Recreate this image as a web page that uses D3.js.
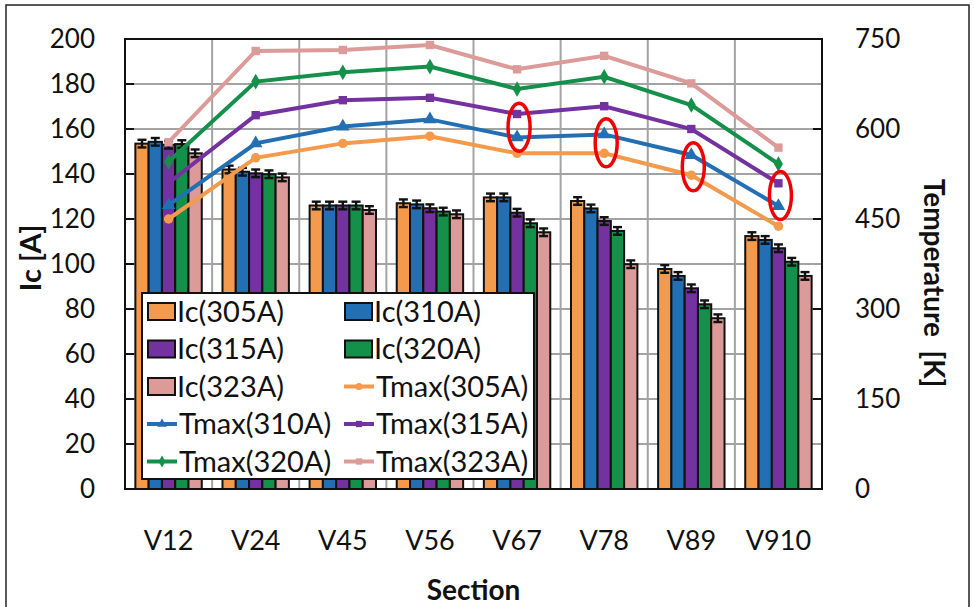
<!DOCTYPE html>
<html>
<head>
<meta charset="utf-8">
<script src="https://cdn.jsdelivr.net/npm/d3@7/dist/d3.min.js"></script>
<style>
  html, body { margin: 0; padding: 0; background: #fff; }
  svg { display: block; font-family: Lato, "Open Sans", sans-serif; }
</style>
</head>
<body>
<svg id="chart" width="974" height="607"></svg>
<script>
// Sections along the conductor
const sections = ["V12", "V24", "V45", "V56", "V67", "V78", "V89", "V910"];
const currents = ["305A", "310A", "315A", "320A", "323A"];
const colors = ["#F39A4C", "#2270B3", "#7431A0", "#14904A", "#DC9A98"];

// Critical current Ic [A] per section, one array per operating current
const ic305 = [153.5, 142, 126, 127, 129.6, 128, 97.8, 112.4];
const ic310 = [154.3, 141, 126, 126.5, 129.6, 124.7, 94.7, 110.7];
const ic315 = [153, 140.3, 126, 124.8, 122.8, 119.1, 89.2, 107];
const ic320 = [153.3, 139.9, 126, 123.3, 118.1, 114.7, 82.1, 101];
const ic323 = [149.2, 138.5, 124, 122.1, 114.1, 99.9, 75.9, 94.7];
const icErr = 1.7;

// Maximum temperature Tmax [K] per section
const t305 = [450, 552, 576, 588, 559.5, 559.5, 523, 438];
const t310 = [473, 576, 604, 616, 586, 591, 556.7, 471.7];
const t315 = [510, 623, 648, 652, 625, 638, 600, 509.5];
const t320 = [545.5, 679, 694.4, 704, 666.7, 687, 640, 541.7];
const t323 = [578, 730, 731.7, 740, 699.5, 722, 676, 569];

// Tick values
const icTicks = [0, 20, 40, 60, 80, 100, 120, 140, 160, 180, 200];
const tTicks = [0, 150, 300, 450, 600, 750];

// Highlighted temperature ranges
const marks = [
  { section: "V67", lo: 563, hi: 643 },
  { section: "V78", lo: 537, hi: 617 },
  { section: "V89", lo: 497, hi: 577 },
  { section: "V910", lo: 449, hi: 529 }
];

const icSeries = [ic305, ic310, ic315, ic320, ic323];
const tSeries = [t305, t310, t315, t320, t323];
const symbols = [d3.symbolCircle, d3.symbolTriangle, d3.symbolSquare, d3.symbolDiamond, d3.symbolSquare];

const svg = d3.select("#chart");
const L = 125, R = 822, T = 39, B = 489;

const x = d3.scaleBand().domain(sections).range([L, R]);
const xi = d3.scaleBand().domain(currents).range([0, x.bandwidth()]).paddingOuter(0.78).paddingInner(0);
const yL = d3.scaleLinear().domain([0, 200]).range([B, T]);
const yR = d3.scaleLinear().domain([0, 750]).range([B, T]);

// outer frame
svg.append("rect").attr("x", 6).attr("y", 5).attr("width", 963).attr("height", 640)
  .attr("fill", "none").attr("stroke", "#222").attr("stroke-width", 1.5);

// gridlines
const grid = svg.append("g").attr("stroke", "#a3a3a3").attr("stroke-width", 2);
grid.selectAll("line.h").data(icTicks.slice(1, -1)).join("line")
  .attr("x1", L).attr("x2", R).attr("y1", d => yL(d)).attr("y2", d => yL(d));
grid.selectAll("line.v").data(sections.slice(1)).join("line")
  .attr("x1", d => x(d)).attr("x2", d => x(d)).attr("y1", T).attr("y2", B);

// bars
const bars = svg.append("g");
currents.forEach((c, si) => {
  bars.append("g").selectAll("rect").data(icSeries[si]).join("rect")
    .attr("x", (d, i) => x(sections[i]) + xi(c))
    .attr("y", d => yL(d))
    .attr("width", xi.bandwidth())
    .attr("height", d => yL(0) - yL(d))
    .attr("fill", colors[si]).attr("stroke", "#111").attr("stroke-width", 2);
});

// error bars
const eb = svg.append("g").attr("stroke", "#111").attr("stroke-width", 2.4);
currents.forEach((c, si) => {
  icSeries[si].forEach((v, i) => {
    const cx = x(sections[i]) + xi(c) + xi.bandwidth() / 2;
    eb.append("line").attr("x1", cx).attr("x2", cx).attr("y1", yL(v - icErr)).attr("y2", yL(v + icErr));
    eb.append("line").attr("x1", cx - 4.5).attr("x2", cx + 4.5).attr("y1", yL(v + icErr)).attr("y2", yL(v + icErr));
    eb.append("line").attr("x1", cx - 4.5).attr("x2", cx + 4.5).attr("y1", yL(v - icErr)).attr("y2", yL(v - icErr));
  });
});

// plot frame and inner ticks
svg.append("rect").attr("x", L).attr("y", T).attr("width", R - L).attr("height", B - T)
  .attr("fill", "none").attr("stroke", "#111").attr("stroke-width", 2);
const tk = svg.append("g").attr("stroke", "#111").attr("stroke-width", 2);
tk.selectAll("line.l").data(icTicks).join("line")
  .attr("x1", L).attr("x2", L + 9).attr("y1", d => yL(d)).attr("y2", d => yL(d));
tk.selectAll("line.r").data(tTicks).join("line")
  .attr("x1", R - 9).attr("x2", R).attr("y1", d => yR(d)).attr("y2", d => yR(d));

// temperature lines
const line = d3.line().x((d, i) => x(sections[i]) + x.bandwidth() / 2).y(d => yR(d));
tSeries.forEach((s, si) => {
  svg.append("path").datum(s).attr("d", line)
    .attr("fill", "none").attr("stroke", colors[si]).attr("stroke-width", 4);
  svg.append("g").selectAll("path").data(s).join("path")
    .attr("transform", (d, i) => `translate(${x(sections[i]) + x.bandwidth() / 2},${yR(d)})`)
    .attr("d", d3.symbol(symbols[si], si === 1 ? 80 : 70))
    .attr("fill", colors[si]);
});

// highlight ellipses
svg.append("g").selectAll("ellipse").data(marks).join("ellipse")
  .attr("cx", d => x(d.section) + x.bandwidth() / 2 + 2)
  .attr("cy", d => (yR(d.lo) + yR(d.hi)) / 2)
  .attr("rx", 11)
  .attr("ry", d => (yR(d.lo) - yR(d.hi)) / 2)
  .attr("fill", "none").attr("stroke", "#F00000").attr("stroke-width", 3.5);

// axis labels
const lab = svg.append("g").attr("fill", "#111").attr("font-size", 26);
lab.selectAll("text.l").data(icTicks).join("text")
  .attr("x", 95).attr("y", d => yL(d)).attr("dy", "0.35em").attr("text-anchor", "end").text(d => d);
lab.selectAll("text.r").data(tTicks).join("text")
  .attr("x", 855).attr("y", d => yR(d)).attr("dy", "0.35em").attr("text-anchor", "start").text(d => d);
lab.selectAll("text.x").data(sections).join("text")
  .attr("x", d => x(d) + x.bandwidth() / 2).attr("y", 541).attr("dy", "0.35em")
  .attr("font-size", 27).attr("text-anchor", "middle").text(d => d);

svg.append("text").attr("x", (L + R) / 2).attr("y", 590).attr("dy", "0.35em")
  .attr("text-anchor", "middle").attr("font-size", 28).attr("font-weight", "bold").attr("fill", "#111")
  .text("Section");
svg.append("text").attr("transform", "translate(31,258) rotate(-90)").attr("dy", "0.35em")
  .attr("text-anchor", "middle").attr("font-size", 29).attr("font-weight", "bold").attr("fill", "#111")
  .text("Ic [A]");
svg.append("text").attr("transform", "translate(934,283) rotate(90)").attr("dy", "0.35em")
  .attr("text-anchor", "middle").attr("font-size", 28).attr("font-weight", "bold").attr("fill", "#111")
  .attr("xml:space", "preserve").style("white-space", "pre")
  .text("Temperature  [K]");

// legend
const lg = svg.append("g");
lg.append("rect").attr("x", 142).attr("y", 293).attr("width", 392).attr("height", 186)
  .attr("fill", "#fff").attr("stroke", "#111").attr("stroke-width", 2);
const entries = currents.map((c, i) => ({ kind: "bar", label: `Ic(${c})`, i }))
  .concat(currents.map((c, i) => ({ kind: "line", label: `Tmax(${c})`, i })));
const colX = [148, 345], rowY0 = 311.5, rowH = 37.5;
entries.forEach((e, k) => {
  const cx = colX[k % 2], cy = rowY0 + Math.floor(k / 2) * rowH;
  const g = lg.append("g").attr("transform", `translate(${cx},${cy})`);
  if (e.kind === "bar") {
    g.append("rect").attr("x", 0).attr("y", -8.5).attr("width", 27).attr("height", 17)
      .attr("fill", colors[e.i]).attr("stroke", "#111").attr("stroke-width", 2);
  } else {
    g.append("line").attr("x1", -1).attr("x2", 29).attr("y1", 0).attr("y2", 0)
      .attr("stroke", colors[e.i]).attr("stroke-width", 4);
    g.append("path").attr("transform", "translate(14,0)").attr("d", d3.symbol(symbols[e.i], 40))
      .attr("fill", colors[e.i]);
  }
  g.append("text").attr("x", e.kind === "bar" ? 29 : 31).attr("y", 0).attr("dy", "0.35em")
    .attr("font-size", 29).attr("fill", "#111").text(e.label);
});
</script>
</body>
</html>
